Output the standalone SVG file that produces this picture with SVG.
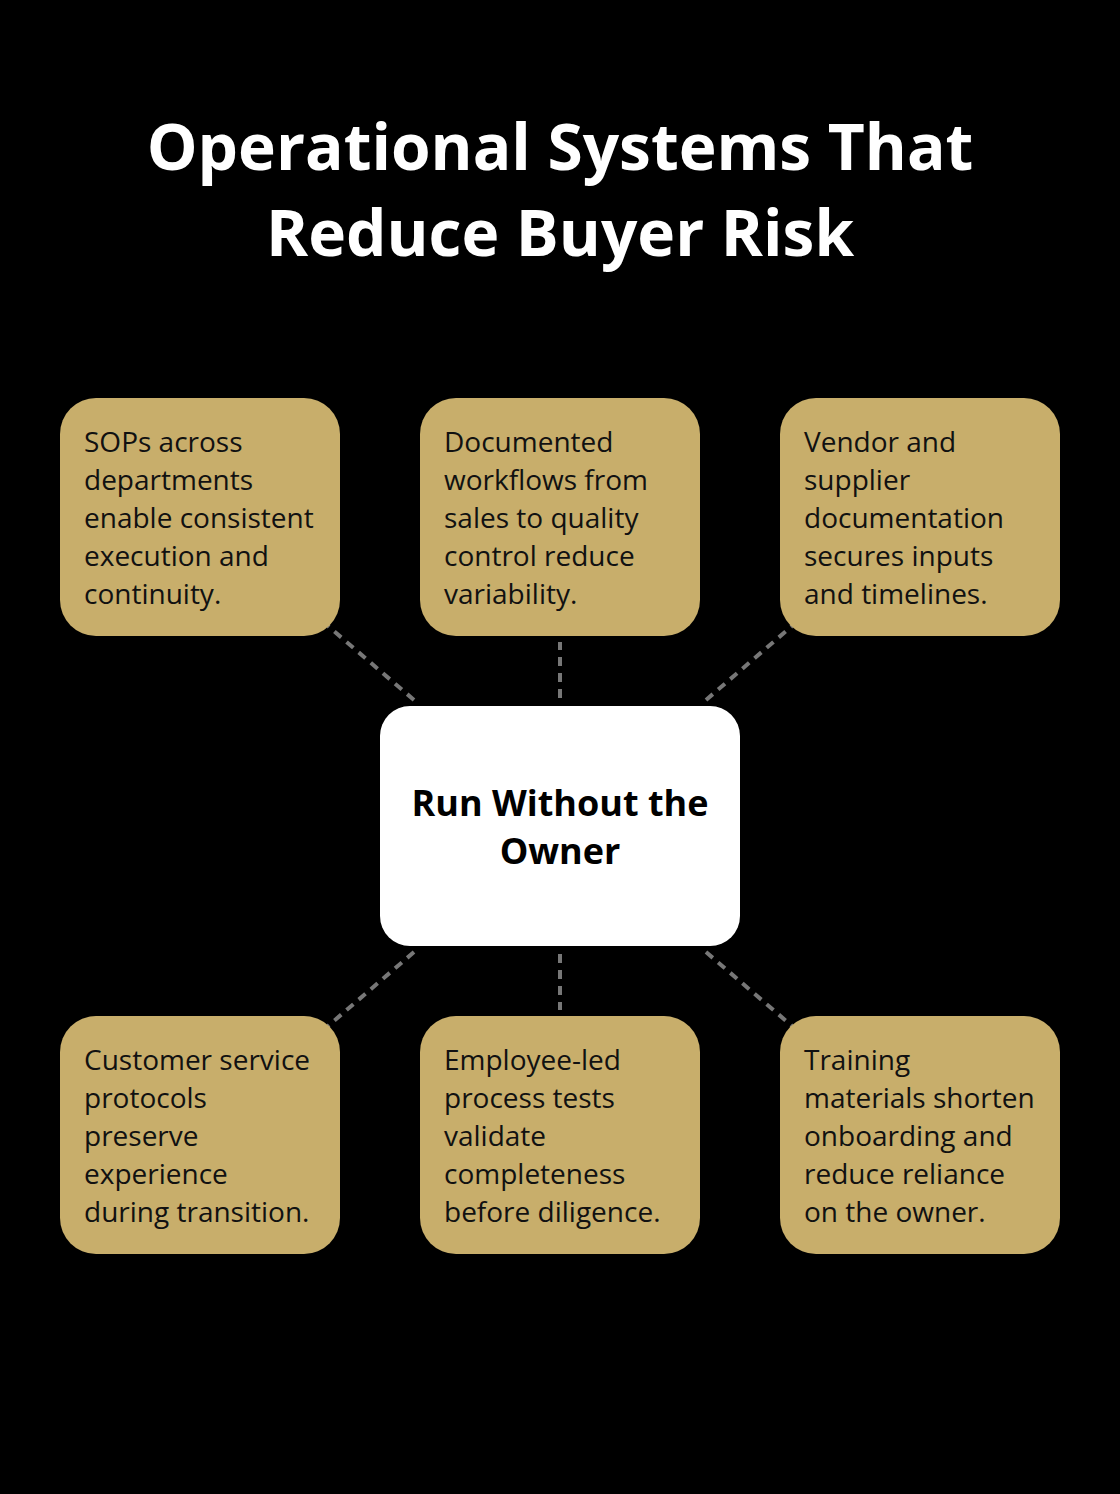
<svg xmlns="http://www.w3.org/2000/svg" width="1120" height="1494" viewBox="0 0 1120 1494">
<style>
.bg{fill:#000}
.box{fill:#C8AE6B}
.center{fill:#fff}
.t{font-family:"Open Sans","Noto Sans",sans-serif;font-size:28px;fill:#111}
.title{font-family:"Open Sans","Noto Sans",sans-serif;font-size:64px;font-weight:700;fill:#fff;text-anchor:middle}
.ct{font-family:"Open Sans","Noto Sans",sans-serif;font-size:36px;font-weight:700;fill:#000;text-anchor:middle}
.conn{stroke:#777;stroke-width:4;stroke-dasharray:9 7;fill:none}
</style>
<rect class="bg" x="0" y="0" width="1120" height="1494"/>
<g id="title">
<text class="title" x="560" y="170">Operational Systems That</text>
<text class="title" x="560" y="256">Reduce Buyer Risk</text>
</g>
<g id="connectors">
<line class="conn" x1="414" y1="700" x2="328" y2="626"/>
<line class="conn" x1="560" y1="698" x2="560" y2="642"/>
<line class="conn" x1="706" y1="700" x2="792" y2="626"/>
<line class="conn" x1="414" y1="952" x2="328" y2="1026"/>
<line class="conn" x1="560" y1="954" x2="560" y2="1010"/>
<line class="conn" x1="706" y1="952" x2="792" y2="1026"/>
</g>
<g id="center">
<rect class="center" x="380" y="706" width="360" height="240" rx="30"/>
<text class="ct" x="560" y="816">Run Without the</text>
<text class="ct" x="560" y="864">Owner</text>
</g>
<g id="n1">
<rect class="box" x="60" y="398" width="280" height="238" rx="36"/>
<text class="t" x="84" y="452">SOPs across</text>
<text class="t" x="84" y="490">departments</text>
<text class="t" x="84" y="528">enable consistent</text>
<text class="t" x="84" y="566">execution and</text>
<text class="t" x="84" y="604">continuity.</text>
</g>
<g id="n2">
<rect class="box" x="420" y="398" width="280" height="238" rx="36"/>
<text class="t" x="444" y="452">Documented</text>
<text class="t" x="444" y="490">workflows from</text>
<text class="t" x="444" y="528">sales to quality</text>
<text class="t" x="444" y="566">control reduce</text>
<text class="t" x="444" y="604">variability.</text>
</g>
<g id="n3">
<rect class="box" x="780" y="398" width="280" height="238" rx="36"/>
<text class="t" x="804" y="452">Vendor and</text>
<text class="t" x="804" y="490">supplier</text>
<text class="t" x="804" y="528">documentation</text>
<text class="t" x="804" y="566">secures inputs</text>
<text class="t" x="804" y="604">and timelines.</text>
</g>
<g id="n4">
<rect class="box" x="60" y="1016" width="280" height="238" rx="36"/>
<text class="t" x="84" y="1070">Customer service</text>
<text class="t" x="84" y="1108">protocols</text>
<text class="t" x="84" y="1146">preserve</text>
<text class="t" x="84" y="1184">experience</text>
<text class="t" x="84" y="1222">during transition.</text>
</g>
<g id="n5">
<rect class="box" x="420" y="1016" width="280" height="238" rx="36"/>
<text class="t" x="444" y="1070">Employee-led</text>
<text class="t" x="444" y="1108">process tests</text>
<text class="t" x="444" y="1146">validate</text>
<text class="t" x="444" y="1184">completeness</text>
<text class="t" x="444" y="1222">before diligence.</text>
</g>
<g id="n6">
<rect class="box" x="780" y="1016" width="280" height="238" rx="36"/>
<text class="t" x="804" y="1070">Training</text>
<text class="t" x="804" y="1108">materials shorten</text>
<text class="t" x="804" y="1146">onboarding and</text>
<text class="t" x="804" y="1184">reduce reliance</text>
<text class="t" x="804" y="1222">on the owner.</text>
</g>
</svg>
